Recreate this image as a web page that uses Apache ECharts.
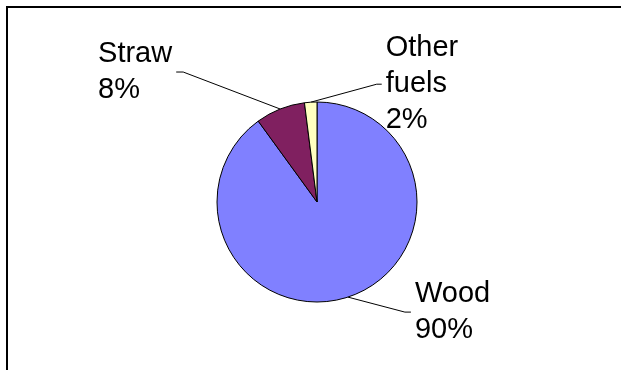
<!DOCTYPE html>
<html>
<head>
<meta charset="utf-8">
<script src="https://cdn.jsdelivr.net/npm/echarts@6/dist/echarts.min.js"></script>
<style>
  html, body { margin: 0; padding: 0; background: #fff; }
  #chart { width: 621px; height: 370px; }
</style>
</head>
<body>
<div id="chart"></div>
<script>
// fuel shares
const categories = ['Wood', 'Straw', 'Other fuels']
const labelNames = ['Wood', 'Straw', 'Other\nfuels']
const shares = [90, 8, 2]
const colors = ['#8080ff', '#802060', '#ffffc0']

// leader line bends: offset from the slice edge, then short horizontal tail
const bend = [[57, 15], [-97, -37], [66, -18]]
const tail = [6, -7, 5]

const chart = echarts.init(document.getElementById('chart'))

const option = {
  animation: false,
  backgroundColor: '#fff',
  graphic: [
    {
      type: 'rect',
      shape: { x: 7, y: 7, width: 800, height: 600 },
      style: { fill: null, stroke: '#000', lineWidth: 2 },
      silent: true
    }
  ],
  series: [
    {
      type: 'pie',
      center: [317, 202],
      radius: 100,
      startAngle: 90,
      clockwise: true,
      avoidLabelOverlap: false,
      data: categories.map((name, i) => ({
        name: name,
        value: shares[i],
        itemStyle: { color: colors[i] }
      })),
      itemStyle: { borderColor: '#000', borderWidth: 1 },
      emphasis: { disabled: true },
      label: {
        show: true,
        position: 'outside',
        color: '#000',
        fontFamily: '"Liberation Sans", Arial, sans-serif',
        fontSize: 29,
        lineHeight: 36,
        align: 'left',
        formatter: p => labelNames[p.dataIndex] + '\n' + Math.round(p.percent) + '%'
      },
      labelLine: {
        show: true,
        length: 20,
        length2: 10,
        lineStyle: { color: '#000', width: 1 }
      },
      labelLayout: function (params) {
        const i = params.dataIndex
        const p0 = params.labelLinePoints[0]
        const p1 = [p0[0] + bend[i][0], p0[1] + bend[i][1]]
        const p2 = [p1[0] + tail[i], p1[1]]
        const right = tail[i] > 0
        // text stays left aligned; blocks on the left side end just before the line
        const x = right ? p2[0] + 4 : p2[0] - 4 - params.labelRect.width
        return {
          x: x,
          y: p2[1],
          align: 'left',
          verticalAlign: 'middle',
          labelLinePoints: [p0, p1, p2]
        }
      }
    }
  ]
}

chart.setOption(option)
</script>
</body>
</html>
